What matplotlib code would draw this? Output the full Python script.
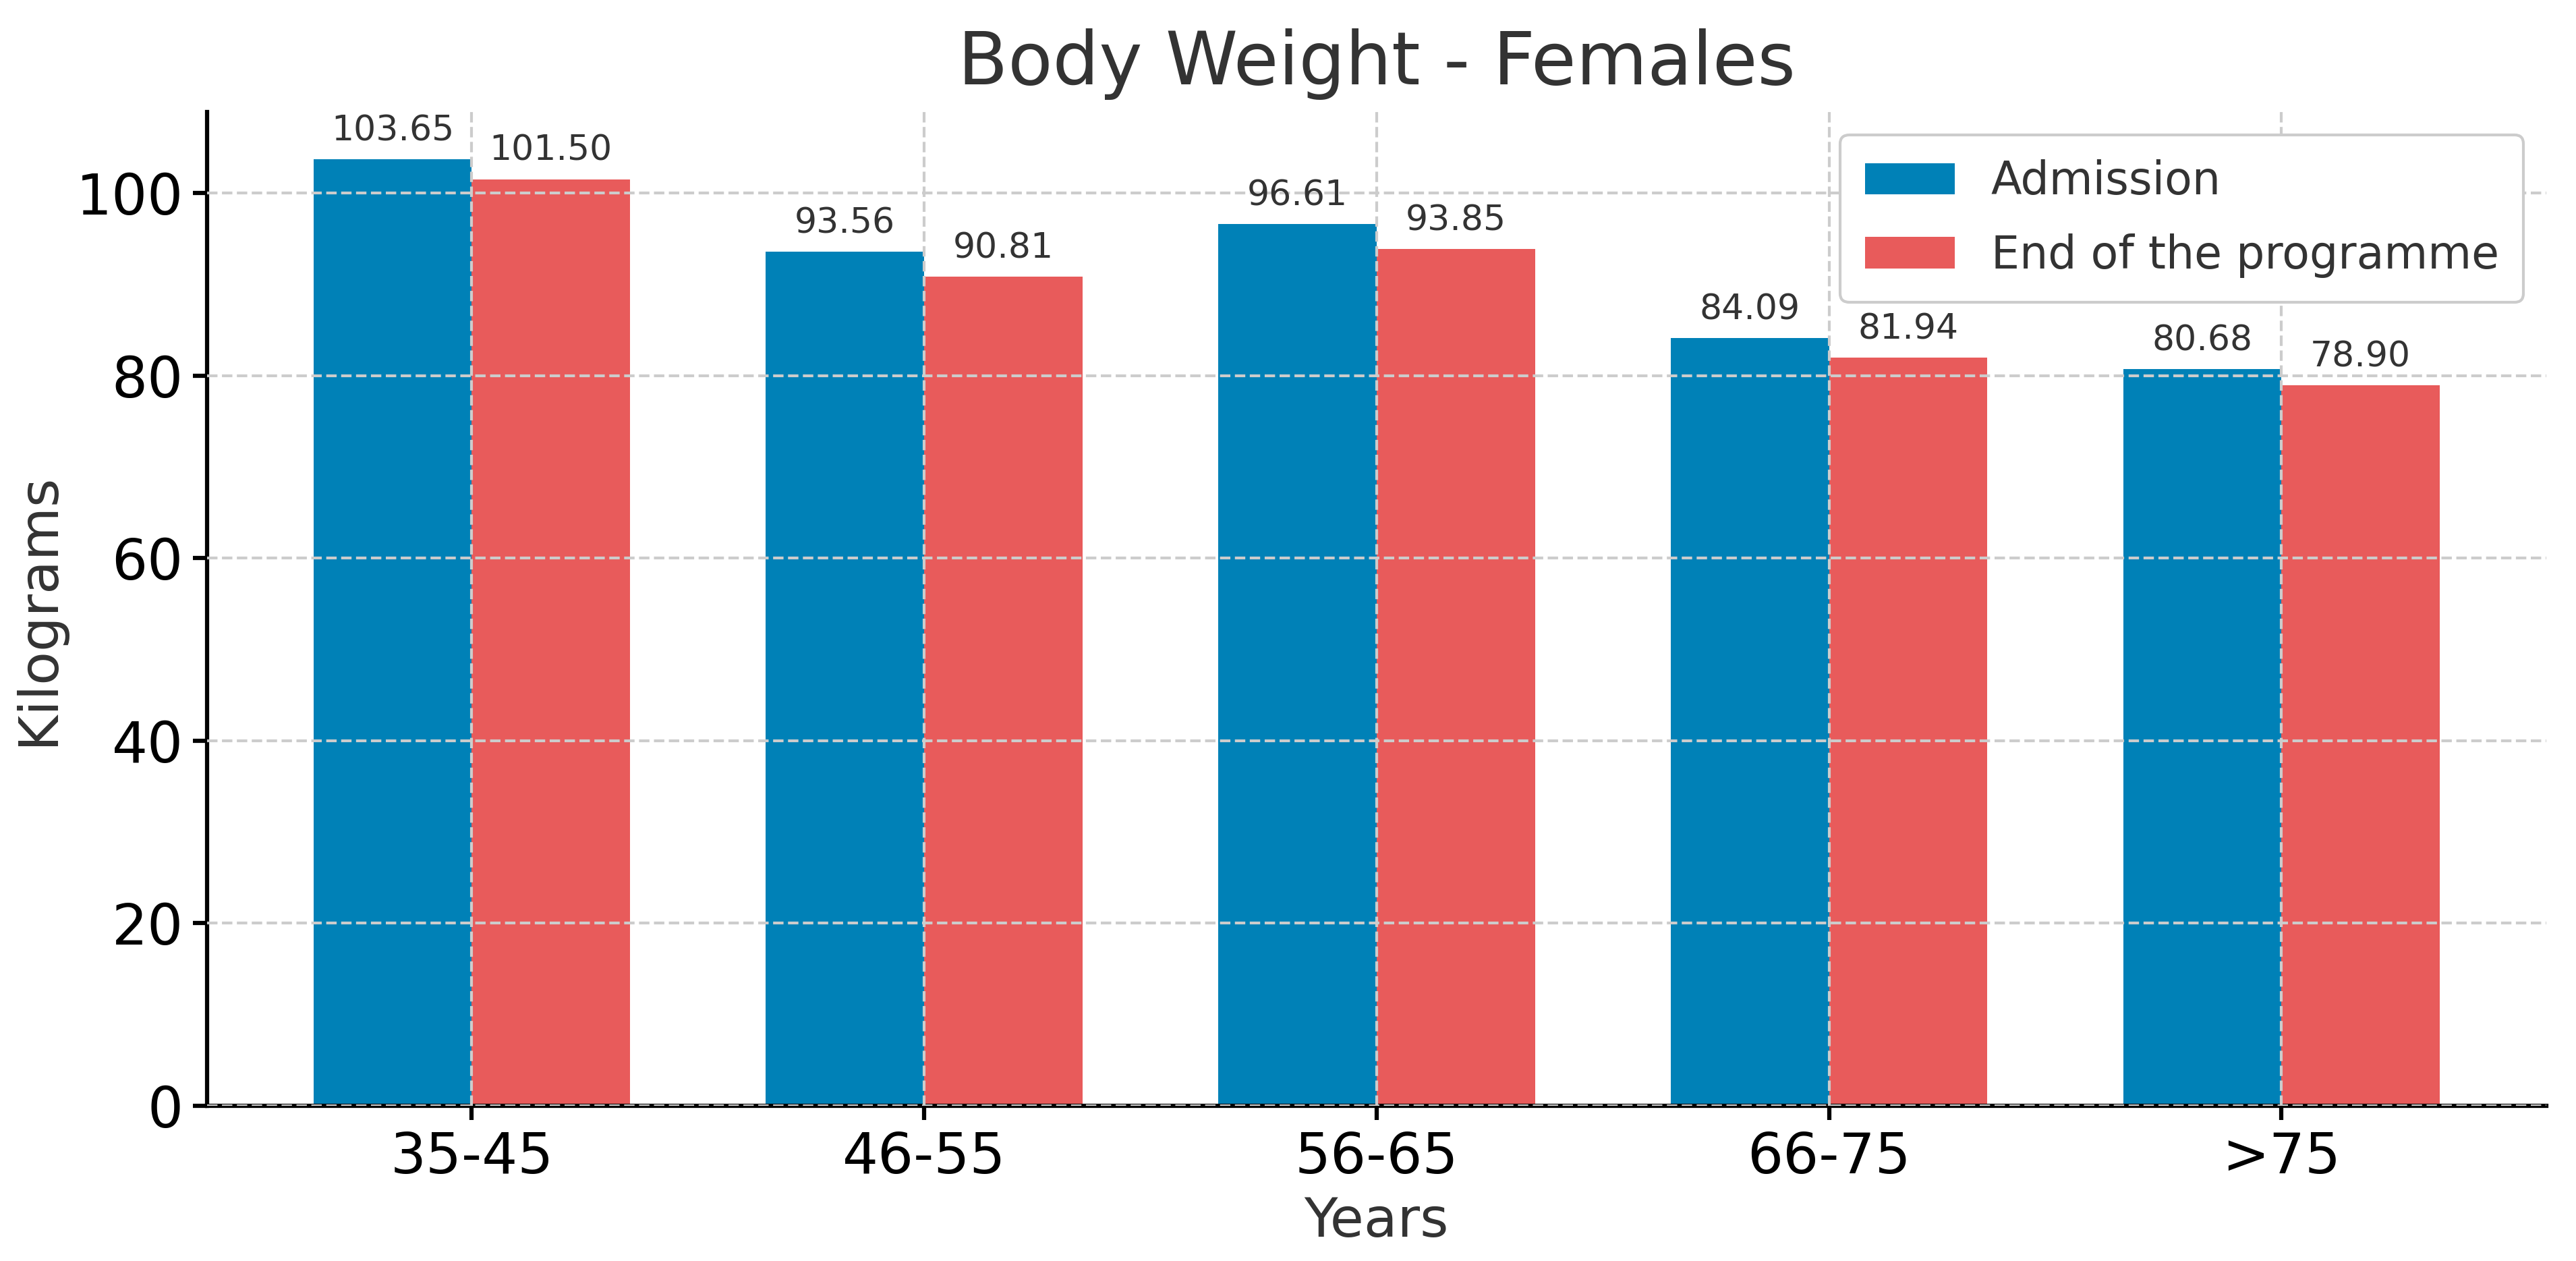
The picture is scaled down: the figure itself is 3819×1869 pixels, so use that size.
import numpy as np
import matplotlib.pyplot as plt

age_groups = ['35-45', '46-55', '56-65', '66-75', '>75']
admission = [103.65, 93.56, 96.61, 84.09, 80.68]
end_programme = [101.50, 90.81, 93.85, 81.94, 78.90]

blue = '#0081b7'
red = '#e85b5b'
text_col = '#333333'

fig = plt.figure(figsize=(12.73, 6.23), dpi=300)
ax = fig.add_axes([0.0804, 0.123, 0.908, 0.788])

x = np.arange(len(age_groups))
width = 0.35
bars1 = ax.bar(x - width / 2, admission, width, color=blue, label='Admission')
bars2 = ax.bar(x + width / 2, end_programme, width, color=red, label='End of the programme')

for bars in (bars1, bars2):
    for b in bars:
        h = b.get_height()
        ax.annotate(f'{h:.2f}', xy=(b.get_x() + b.get_width() / 2, h),
                    xytext=(0, 4), textcoords='offset points',
                    ha='center', va='bottom', fontsize=12.5, color=text_col)

ax.set_title('Body Weight - Females', fontsize=26, color=text_col, pad=10)
ax.set_xlabel('Years', fontsize=19.5, color=text_col)
ax.set_ylabel('Kilograms', fontsize=19.5, color=text_col)
ax.set_xticks(x)
ax.set_xticklabels(age_groups)
ax.tick_params(labelsize=20, width=1.5, length=5)
ax.set_yticks([0, 20, 40, 60, 80, 100])

ax.grid(True, linestyle='--', color='#cccccc', linewidth=1)
ax.set_axisbelow(False)
ax.spines['top'].set_visible(False)
ax.spines['right'].set_visible(False)
ax.spines['left'].set_linewidth(1.5)
ax.spines['bottom'].set_linewidth(1.5)

leg = ax.legend(loc='upper right', fontsize=16, frameon=True, framealpha=1,
                labelspacing=0.65, borderpad=0.55)
leg.get_frame().set_edgecolor('#cccccc')
for t in leg.get_texts():
    t.set_color(text_col)

fig.savefig('out.png', dpi=300)
